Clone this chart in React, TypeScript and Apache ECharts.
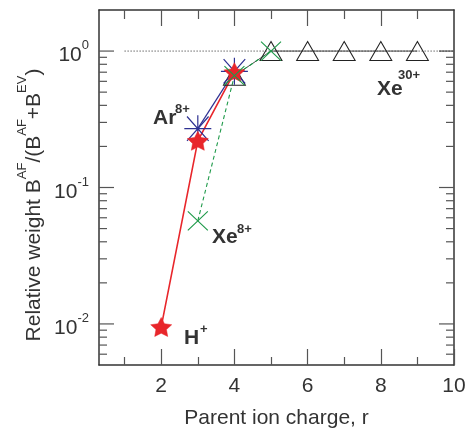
import React, { useEffect, useRef } from 'react';
import * as echarts from 'echarts';

// Red stars (H+ sequence)
const redCharge = [2, 3, 4];
const redWeight = [0.0095, 0.22, 0.7];
// Blue asterisks (Ar8+)
const blueCharge = [3, 4];
const blueWeight = [0.27, 0.71];
// Green crosses (Xe8+)
const greenCharge = [3, 4, 5];
const greenWeight = [0.057, 0.66, 1.0];
// Open triangles (Xe30+)
const triCharge = [4, 5, 6, 7, 8, 9];
const triWeight = [0.66, 1, 1, 1, 1, 1];
// Reference dotted line at 1
const refCharge = [1, 10];
const refWeight = [1, 1];

const X_MIN = 0.3;
const X_MAX = 10;
const Y_MIN = 0.005;
const Y_MAX = 2;

const xMajorTicks = [2, 4, 6, 8, 10];
const xMinorTicks = [1, 3, 5, 7, 9];
const yMajorTicks = [0.01, 0.1, 1];
const yMinorTicks = [
  0.006, 0.007, 0.008, 0.009,
  0.02, 0.03, 0.04, 0.05, 0.06, 0.07, 0.08, 0.09,
  0.2, 0.3, 0.4, 0.5, 0.6, 0.7, 0.8, 0.9,
];

const labelTexts = [
  { base: 'Ar', sup: '8+' },
  { base: 'Xe', sup: '8+' },
  { base: 'H', sup: '+' },
  { base: 'Xe', sup: '30+' },
];

const FONT = 'Liberation Sans, Arial, sans-serif';
const TXT = '#333';
const TICK = '#555';

const zip = (xs: number[], ys: number[]) => xs.map((x, i) => [x, ys[i]]);

const STAR =
  'path://M0,-10 L2.94,-4.05 L9.51,-3.09 L4.76,1.55 L5.88,8.09 L0,5 L-5.88,8.09 L-4.76,1.55 L-9.51,-3.09 L-2.94,-4.05 Z';
const ASTER = 'path://M0,-10 L0,10 M-10,0 L10,0 M-8,-9 L8,9 M-8,9 L8,-9';
const CROSS = 'path://M-10,-10 L10,10 M-10,10 L10,-10';

export default function App() {
  const ref = useRef<HTMLDivElement>(null);
  useEffect(() => {
    if (!ref.current) return;
    const chart = echarts.init(ref.current, null, { renderer: 'svg' });

    const lineOn = { onZero: false, show: true, lineStyle: { color: '#333', width: 1.5 } };
    const lineOff = { onZero: false, show: false };
    const tick = (vals: number[], len: number) => ({
      show: true,
      inside: true,
      length: len,
      customValues: vals,
      lineStyle: { color: TICK, width: 1.2 },
    });
    const xAx = (position: string, axisLine: any, axisTick: any, extra: any = {}) => ({
      type: 'value',
      min: X_MIN,
      max: X_MAX,
      position,
      splitLine: { show: false },
      axisLine,
      axisTick,
      axisLabel: { show: false },
      ...extra,
    });

    const tickLine = (x1: number, y1: number, x2: number, y2: number) => ({
      type: 'line',
      shape: { x1, y1, x2, y2 },
      style: { stroke: TICK, lineWidth: 1.2 },
    });
    // y ticks: [flag, weight] where flag 1 = major, 2 = minor
    const yTickData = [
      ...yMajorTicks.map((v) => [1, v]),
      ...yMinorTicks.map((v) => [2, v]),
    ];

    const ttl = (text: string, size: number, left: number, cy: number, lh: number) => ({
      text,
      left,
      top: cy - lh / 2,
      padding: 0,
      textStyle: { fontSize: size, fontWeight: 'bold', fontFamily: FONT, color: TXT, lineHeight: lh },
    });
    const titles = [
      ttl(labelTexts[0].base, 21, 153, 116, 24),
      ttl(labelTexts[0].sup, 13, 175, 108.5, 14),
      ttl(labelTexts[1].base, 21, 212, 235.5, 24),
      ttl(labelTexts[1].sup, 13, 237, 228, 14),
      ttl(labelTexts[2].base, 21, 184, 336.5, 24),
      ttl(labelTexts[2].sup, 13, 200, 328.5, 14),
      ttl(labelTexts[3].base, 21, 377, 87, 24),
      ttl(labelTexts[3].sup, 13, 398, 74, 14),
    ];

    const option: any = {
      animation: false,
      title: titles,
      grid: { left: 99, right: 11, top: 10, bottom: 69, outerBoundsMode: 'none' },
      xAxis: [
        xAx('bottom', lineOn, tick(xMajorTicks, 16), {
          axisLabel: {
            show: true,
            customValues: xMajorTicks,
            margin: 9,
            fontSize: 21,
            fontFamily: FONT,
            color: TXT,
          },
          name: 'Parent ion charge, r',
          nameLocation: 'middle',
          nameGap: 41,
          nameTextStyle: { fontSize: 21, fontFamily: FONT, color: TXT },
        }),
        xAx('bottom', lineOff, tick(xMinorTicks, 8)),
        xAx('top', lineOn, tick([2, 4, 6, 8], 16)),
        xAx('top', lineOff, tick(xMinorTicks, 9)),
      ],
      yAxis: [
        {
          type: 'log',
          min: Y_MIN,
          max: Y_MAX,
          position: 'left',
          splitLine: { show: false },
          axisLine: lineOn,
          axisTick: { show: false },
          axisLabel: {
            show: true,
            customValues: yMajorTicks,
            margin: 10,
            formatter: (v: number) => `{b|10}{s|${Math.round(Math.log10(v))}}`,
            rich: {
              b: { fontSize: 21, fontFamily: FONT, color: TXT, lineHeight: 26, verticalAlign: 'bottom' },
              s: { fontSize: 13, fontFamily: FONT, color: TXT, lineHeight: 14, verticalAlign: 'top' },
            },
          },
          name: '{n|Relative weight B}{s|AF}{n|/(B}{s|AF}{n|+B}{s|EV}{n|)}',
          nameLocation: 'middle',
          nameRotate: 90,
          nameGap: 55,
          nameTextStyle: {
            padding: [0, 35, 0, 0],
            rich: {
              n: { fontSize: 21, fontFamily: FONT, color: TXT, lineHeight: 28, verticalAlign: 'bottom' },
              s: { fontSize: 13, fontFamily: FONT, color: TXT, lineHeight: 14, verticalAlign: 'top' },
            },
          },
        },
        {
          type: 'log',
          min: Y_MIN,
          max: Y_MAX,
          position: 'right',
          splitLine: { show: false },
          axisLine: lineOn,
          axisTick: { show: false },
          axisLabel: { show: false },
        },
      ],
      series: [
        {
          type: 'custom',
          coordinateSystem: 'cartesian2d',
          silent: true,
          data: yTickData,
          encode: { x: 0, y: 1 },
          renderItem: (_p: any, api: any) => {
            const major = api.value(0) === 1;
            const v = api.value(1);
            const l = api.coord([X_MIN, v]);
            const r = api.coord([X_MAX, v]);
            const len = major ? 15 : 8;
            return {
              type: 'group',
              children: [tickLine(l[0], l[1], l[0] + len, l[1]), tickLine(r[0], r[1], r[0] - len, r[1])],
            };
          },
        },
        {
          type: 'line',
          data: zip(refCharge, refWeight),
          symbol: 'none',
          lineStyle: { color: '#222', width: 1, type: [1, 2] },
        },
        {
          type: 'line',
          data: zip(triCharge, triWeight),
          symbol: 'triangle',
          symbolSize: [22, 19],
          itemStyle: { color: 'rgba(0,0,0,0)', borderColor: '#222', borderWidth: 1 },
          lineStyle: { color: '#333', width: 0.9 },
        },
        {
          type: 'line',
          data: zip(blueCharge, blueWeight),
          symbol: ASTER,
          symbolSize: [27, 27],
          itemStyle: { color: 'rgba(0,0,0,0)', borderColor: '#2e3192', borderWidth: 1.2 },
          lineStyle: { color: '#2e3192', width: 1.2 },
        },
        {
          type: 'line',
          data: zip(redCharge, redWeight),
          symbol: STAR,
          symbolSize: [21, 19],
          itemStyle: { color: '#e8262b', borderColor: '#e8262b', borderWidth: 0.5 },
          lineStyle: { color: '#e8262b', width: 1.6 },
        },
        {
          type: 'line',
          data: zip(greenCharge, greenWeight),
          symbol: CROSS,
          symbolSize: [20, 19],
          itemStyle: { color: 'rgba(0,0,0,0)', borderColor: '#1f9a4a', borderWidth: 1.1 },
          lineStyle: { color: '#1f9a4a', width: 1.1, type: [4, 3] },
        },
      ],
    };
    chart.setOption(option);
    return () => chart.dispose();
  }, []);
  return <div ref={ref} style={{ width: 465, height: 434, position: 'fixed', left: 0, top: 0 }} />;
}
